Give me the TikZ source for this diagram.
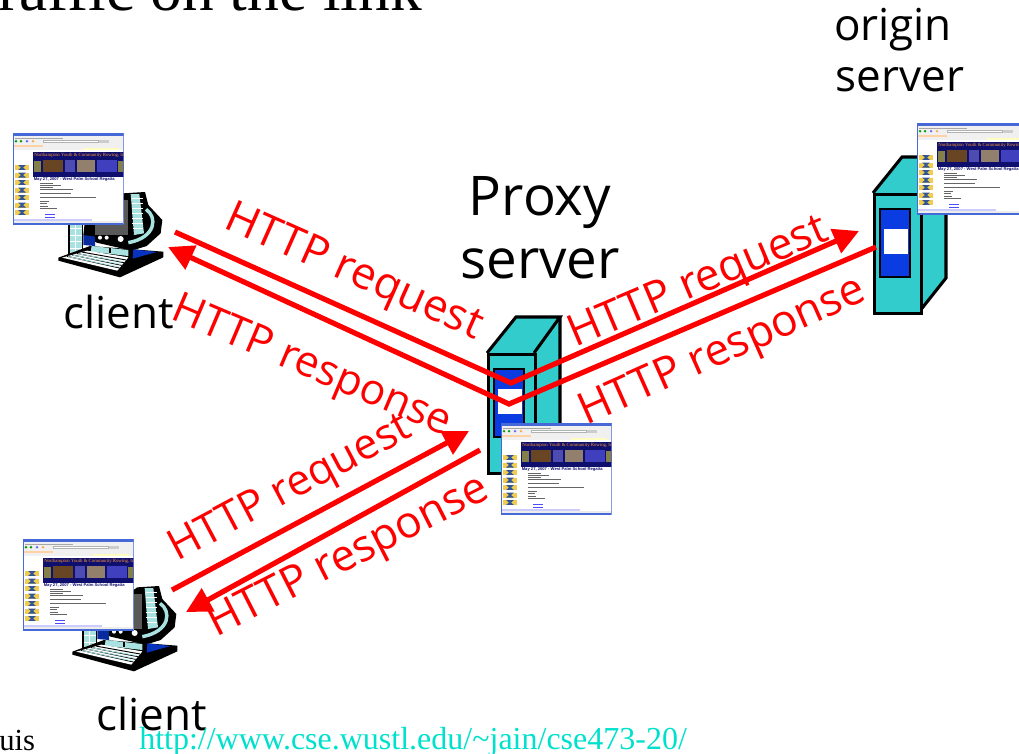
\documentclass[tikz,border=0pt]{standalone}
\usepackage{fontspec}
\setmainfont{Open Sans}
\newfontfamily\serifface{Liberation Serif}
\newfontfamily\thumbface{Liberation Sans}
\usetikzlibrary{arrows.meta}
\definecolor{srvteal}{RGB}{51,204,204}
\definecolor{srvblue}{RGB}{10,60,225}
\definecolor{winblue}{RGB}{70,105,215}
\definecolor{navyban}{RGB}{15,15,110}
\definecolor{flow}{RGB}{255,0,0}
\definecolor{urlcol}{RGB}{0,225,205}
\definecolor{keyteal}{RGB}{170,225,225}
\definecolor{iconyellow}{RGB}{240,205,80}
\definecolor{iconblue}{RGB}{50,85,150}
\tikzset{
  flowline/.style={draw=flow,line width=3.9pt,line join=miter,-{Triangle[length=19pt,width=19pt]}},
  flowlabel/.style={text=flow,font=\fontsize{33}{33}\selectfont,inner sep=0pt},
  caption/.style={text=black,font=\fontsize{33}{33}\selectfont,inner sep=0pt},
  srvline/.style={draw=black,line width=2.3pt,line join=miter},
  pics/computer/.style={code={
    \begin{scope}[scale=1/3]
      \fill[black] (205,305) rectangle (250,405);
      \fill[keyteal] (209,310) rectangle (245,400);
      \foreach \yy in {325,345,365,385}{\draw[white,line width=.7pt] (209,\yy) -- (245,\yy);}
      \draw[white,line width=.7pt] (227,310) -- (227,400);
      \fill[black] (370,220) -- (435,216) -- (445,255) -- (487,300) -- (482,340) -- (440,378) -- (395,392) -- (290,368) -- (250,345) -- (255,300) -- cycle;
      \fill[srvblue!70!black] (250,345) -- (285,350) -- (285,378) -- (250,375) -- cycle;
      \fill[gray!70!black] (285,240) -- (385,240) -- (385,345) -- (285,345) -- cycle;
      \fill[keyteal] (392,222) -- (418,222) -- (432,340) -- (402,345) -- cycle;
      \foreach \yy in {235,250,...,335}{\draw[white,line width=1pt] (395+\yy/30-8,\yy) -- (428,\yy);}
      \draw[keyteal,line width=2.6pt] (438,268) .. controls (472,290) and (470,352) .. (385,368);
      \fill[white] (300,353) circle[radius=6]; \fill[white] (320,353) circle[radius=6]; \fill[white] (362,357) circle[radius=9];
      \fill[black] (175,413) -- (270,378) -- (490,395) -- (490,412) -- (360,472) -- (175,422) -- cycle;
      \fill[srvblue!85!black] (400,388) -- (470,396) -- (398,416) -- cycle;
      \fill[keyteal] (275,378) -- (385,390) -- (385,408) -- (272,395) -- cycle;
      \draw[black,line width=.8pt] (330,383) -- (330,400);
      \fill[white] (186,413) -- (262,392) -- (385,412) -- (352,452) -- cycle;
      \foreach \i in {1,2,3,4}{\draw[black,line width=.7pt] (186+\i*15,413-\i*4.2) -- (352+\i*6.6,452-\i*8);}
      \foreach \i in {1,2,3}{\draw[keyteal,line width=.6pt] (186+\i*15+3,414-\i*4.2) -- (352+\i*6.6-3,449-\i*8);}
    \end{scope}
  }},
  pics/webpage/.style={code={
    \begin{scope}
      \clip (0,0) rectangle (110.5,91);
      \fill[white] (0,0) rectangle (111,91);
      \fill[winblue] (0,0) rectangle (111,3);
      \fill[gray!12] (0,3) rectangle (111,17);
      \draw[gray!70,line width=.3pt] (2,5) -- (50,5);
      \fill[green!60!black] (3,8.2) circle[radius=1.3]; \fill[green!60!black] (8,8.2) circle[radius=1.3];
      \fill[blue!60] (14,8.2) circle[radius=1.3]; \fill[orange!70] (20,8.2) circle[radius=1.3];
      \fill[white] (30,7) rectangle (85,9.5); \draw[gray!60,line width=.2pt] (30,7) rectangle (85,9.5);
      \fill[gray!40] (86,7) rectangle (96,9.5);
      \fill[orange!35] (1,12) rectangle (30,14); \fill[yellow!25] (70,14.5) rectangle (106,16.5);
      \fill[navyban] (20,19) rectangle (111,44);
      \fill[brown!55!black] (30,27) rectangle (50,39); \fill[blue!40!gray] (52,27) rectangle (62,39);
      \fill[gray!70!brown] (64,27) rectangle (82,39); \fill[gray!50!blue] (84,27) rectangle (104,39);
      \fill[yellow!45!black] (21,28) rectangle (28,39); \fill[yellow!45!black] (105,28) rectangle (111,39);
      \node[anchor=west,inner sep=0pt,text=orange!80!white,font=\serifface\fontsize{3.6}{4}\selectfont] (banner) at (21,22.8) {Northampton Youth \& Community Rowing, Inc};
      \node[anchor=west,inner sep=0pt,text=navyban,font=\thumbface\bfseries\fontsize{3.1}{4}\selectfont] (heading) at (20.5,46.5) {May 27, 2007 - West Palm School Regatta};
      \foreach \yy in {32,39.5,...,84}{
        \fill[iconyellow] (2,\yy) rectangle (16,\yy+5);
        \fill[iconblue] (5,\yy) -- (13,\yy) -- (10,\yy+2.5) -- (13,\yy+5) -- (5,\yy+5) -- (8,\yy+2.5) -- cycle;
        \fill[white] (2,\yy+5) rectangle (16,\yy+6);
      }
      \foreach \yy/\xa/\xb in {50/27/40,52/27/48,54/27/40,56/27/60,60/27/58,64/27/83,68/27/36,70/27/34,73/27/35,75/27/44}{
        \draw[gray!80!black,line width=.35pt] (\xa,\yy) -- (\xb,\yy);}
      \draw[blue!70,line width=.35pt] (32,81) -- (42,81);
      \draw[blue!70,line width=.35pt] (32,84) -- (42,84);
      \fill[white] (0,85) rectangle (111,91);
      \fill[blue!20] (1,85.5) rectangle (79,88);
      \fill[gray!15] (0,88) rectangle (111,90.5);
      \draw[winblue,line width=.8pt] (0,0) rectangle (110.5,91);
    \end{scope}
  }}
}
\newcommand{\serverbox}[3]{% name, left x, top y (front face)
  \fill[srvteal] (#2,#3) -- ++(29,-36) -- ++(44,0) -- ++(0,121) -- ++(-27,34) -- ++(-46,0) -- cycle;
  \draw[srvline] (#2,#3) -- ++(29,-36) -- ++(44,0) -- ++(-26,36);
  \draw[srvline] (#2+73,#3-36) -- ++(0,121) -- ++(-27,34);
  \node[srvline,fill=srvteal,minimum width=46.5pt*.75,minimum height=119pt*.75,anchor=north west,inner sep=0pt] (#1) at (#2,#3) {};
  \fill[black] (#2+6,#3+15) rectangle ++(32,70);
  \fill[srvblue] (#2+8,#3+17) rectangle ++(28,66);
  \fill[white] (#2+11,#3+36) rectangle ++(24,25);
}
\begin{document}
\begin{tikzpicture}[x=0.75pt,y=-0.75pt]
\useasboundingbox (0,0) rectangle (1019,753);
\clip (0,0) rectangle (1019,753);
\fill[white] (0,0) rectangle (1019,753);

\node[anchor=base west,inner sep=0pt,font=\serifface\fontsize{47.6}{48}\selectfont] (title) at (-2,11) {raffic on the link};

\pic at (0,120) {computer};
\pic at (14,514) {computer};
\serverbox{proxy}{487}{353}
\serverbox{origin}{873}{193}
\pic at (13,133) {webpage};
\pic at (501,423) {webpage};
\pic at (917,123) {webpage};
\pic at (23,539) {webpage};

\coordinate (reqA) at (175,232);
\coordinate (reqV) at (511,383);
\coordinate (reqZ) at (859,231);
\coordinate (resA) at (876,247);
\coordinate (resV) at (509,404);
\coordinate (resZ) at (168,247);
\coordinate (lreqA) at (172,590);
\coordinate (lreqZ) at (469,431);
\coordinate (lresA) at (480,450);
\coordinate (lresZ) at (186,612);

\draw[flowline] (reqA) -- (reqV) -- (reqZ);
\draw[flowline] (resA) -- (resV) -- (resZ);
\draw[flowline] (lreqA) -- (lreqZ);
\draw[flowline] (lresA) -- (lresZ);

\node[flowlabel,rotate=-24] (l1) at (353,274) {HTTP request};
\node[flowlabel,rotate=-23,font=\fontsize{32}{32}\selectfont] (l2) at (311,368) {HTTP response};
\node[flowlabel,rotate=23] (l3) at (699,284) {HTTP request};
\node[flowlabel,rotate=24] (l4) at (723,353) {HTTP response};
\node[flowlabel,rotate=28,font=\fontsize{32}{32}\selectfont] (l5) at (291,490) {HTTP request};
\node[flowlabel,rotate=27] (l6) at (349,558) {HTTP response};

\node[caption,anchor=base] (c1) at (893,40) {origin};
\node[caption,anchor=base] (c2) at (900,91) {server};
\node[caption,anchor=base,font=\fontsize{41}{41}\selectfont] (c3) at (540,215) {Proxy};
\node[caption,anchor=base,font=\fontsize{41}{41}\selectfont] (c4) at (540,278) {server};
\node[caption,anchor=base] (c5) at (119,328) {client};
\node[caption,anchor=base] (c6) at (152,730) {client};

\node[anchor=base west,inner sep=0pt,font=\serifface\fontsize{23}{23}\selectfont] (foot) at (-1,750) {uis};
\node[anchor=base west,inner sep=0pt,text=urlcol,font=\serifface\fontsize{24}{24}\selectfont] (url) at (139,749) {http://www.cse.wustl.edu/\textasciitilde jain/cse473-20/};
\end{tikzpicture}
\end{document}
